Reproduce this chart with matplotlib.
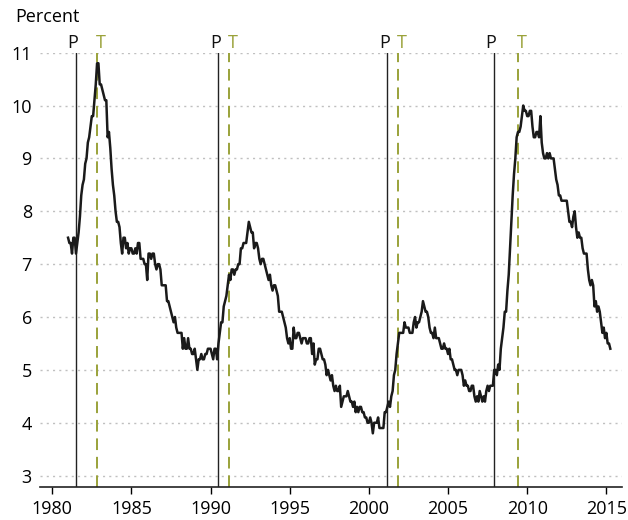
import matplotlib

matplotlib.use("Agg")
import matplotlib.pyplot as plt
import numpy as np

plt.rcParams["font.family"] = ["Open Sans", "DejaVu Sans"]

# monthly unemployment rate, Jan 1981 - Apr 2015
START_YEAR = 1981
RATE = [
    7.5, 7.4, 7.4, 7.2, 7.5, 7.5, 7.2, 7.4, 7.6, 7.9, 8.3, 8.5,
    8.6, 8.9, 9.0, 9.3, 9.4, 9.6, 9.8, 9.8, 10.1, 10.4, 10.8, 10.8,
    10.4, 10.4, 10.3, 10.2, 10.1, 10.1, 9.4, 9.5, 9.2, 8.8, 8.5, 8.3,
    8.0, 7.8, 7.8, 7.7, 7.4, 7.2, 7.5, 7.5, 7.3, 7.4, 7.2, 7.3,
    7.3, 7.2, 7.2, 7.3, 7.2, 7.4, 7.4, 7.1, 7.1, 7.1, 7.0, 7.0,
    6.7, 7.2, 7.2, 7.1, 7.2, 7.2, 7.0, 6.9, 7.0, 7.0, 6.9, 6.6,
    6.6, 6.6, 6.6, 6.3, 6.3, 6.2, 6.1, 6.0, 5.9, 6.0, 5.8, 5.7,
    5.7, 5.7, 5.7, 5.4, 5.6, 5.4, 5.4, 5.6, 5.4, 5.4, 5.3, 5.3,
    5.4, 5.2, 5.0, 5.2, 5.2, 5.3, 5.2, 5.2, 5.3, 5.3, 5.4, 5.4,
    5.4, 5.3, 5.2, 5.4, 5.4, 5.2, 5.5, 5.7, 5.9, 5.9, 6.2, 6.3,
    6.4, 6.6, 6.8, 6.7, 6.9, 6.9, 6.8, 6.9, 6.9, 7.0, 7.0, 7.3,
    7.3, 7.4, 7.4, 7.4, 7.6, 7.8, 7.7, 7.6, 7.6, 7.3, 7.4, 7.4,
    7.3, 7.1, 7.0, 7.1, 7.1, 7.0, 6.9, 6.8, 6.7, 6.8, 6.6, 6.5,
    6.6, 6.6, 6.5, 6.4, 6.1, 6.1, 6.1, 6.0, 5.9, 5.8, 5.6, 5.5,
    5.6, 5.4, 5.4, 5.8, 5.6, 5.6, 5.7, 5.7, 5.6, 5.5, 5.6, 5.6,
    5.6, 5.5, 5.5, 5.6, 5.6, 5.3, 5.5, 5.1, 5.2, 5.2, 5.4, 5.4,
    5.3, 5.2, 5.2, 5.1, 4.9, 5.0, 4.9, 4.8, 4.9, 4.7, 4.6, 4.7,
    4.6, 4.6, 4.7, 4.3, 4.4, 4.5, 4.5, 4.5, 4.6, 4.5, 4.4, 4.4,
    4.3, 4.4, 4.2, 4.3, 4.2, 4.3, 4.3, 4.2, 4.2, 4.1, 4.1, 4.0,
    4.0, 4.1, 4.0, 3.8, 4.0, 4.0, 4.0, 4.1, 3.9, 3.9, 3.9, 3.9,
    4.2, 4.2, 4.3, 4.4, 4.3, 4.5, 4.6, 4.9, 5.0, 5.3, 5.5, 5.7,
    5.7, 5.7, 5.7, 5.9, 5.8, 5.8, 5.8, 5.7, 5.7, 5.7, 5.9, 6.0,
    5.8, 5.9, 5.9, 6.0, 6.1, 6.3, 6.2, 6.1, 6.1, 6.0, 5.8, 5.7,
    5.7, 5.6, 5.8, 5.6, 5.6, 5.6, 5.5, 5.4, 5.4, 5.5, 5.4, 5.4,
    5.3, 5.4, 5.2, 5.2, 5.1, 5.0, 5.0, 4.9, 5.0, 5.0, 5.0, 4.9,
    4.7, 4.8, 4.7, 4.7, 4.6, 4.6, 4.7, 4.7, 4.5, 4.4, 4.5, 4.4,
    4.6, 4.5, 4.4, 4.5, 4.4, 4.6, 4.7, 4.6, 4.7, 4.7, 4.7, 5.0,
    5.0, 4.9, 5.1, 5.0, 5.4, 5.6, 5.8, 6.1, 6.1, 6.5, 6.8, 7.3,
    7.8, 8.3, 8.7, 9.0, 9.4, 9.5, 9.5, 9.6, 9.8, 10.0, 9.9, 9.9,
    9.8, 9.8, 9.9, 9.9, 9.6, 9.4, 9.4, 9.5, 9.5, 9.4, 9.8, 9.3,
    9.1, 9.0, 9.0, 9.1, 9.0, 9.1, 9.0, 9.0, 9.0, 8.8, 8.6, 8.5,
    8.3, 8.3, 8.2, 8.2, 8.2, 8.2, 8.2, 8.0, 7.8, 7.8, 7.7, 7.9,
    8.0, 7.7, 7.5, 7.6, 7.5, 7.5, 7.3, 7.2, 7.2, 7.2, 6.9, 6.7,
    6.6, 6.7, 6.6, 6.2, 6.3, 6.1, 6.2, 6.1, 5.9, 5.7, 5.8, 5.6,
    5.7, 5.5, 5.5, 5.4,
]

# business cycle peaks (P) and troughs (T), decimal years
PEAKS = [1981.5, 1990.5, 2001.17, 2007.92]
TROUGHS = [1982.83, 1991.17, 2001.83, 2009.42]

Y_TICKS = [3, 4, 5, 6, 7, 8, 9, 10, 11]
X_TICKS = [1980, 1985, 1990, 1995, 2000, 2005, 2010, 2015]

GREEN = "#9aa23a"
FS = 13

dates = START_YEAR + np.arange(len(RATE)) / 12

fig = plt.figure(figsize=(6.28, 5.2), dpi=100)
ax = fig.add_axes([0.064, 0.063, 0.926, 0.8357])

for y in Y_TICKS:
    ax.axhline(y, color="#c0c0c0", lw=1, ls=(0, (1.5, 3)), zorder=0)

ymin, ymax = 2.78, 11
for p in PEAKS:
    ax.plot([p, p], [ymin, ymax], color="#222222", lw=1.0, zorder=1)
    ax.annotate("P", (p, ymax), xytext=(-2.3, 7.2), textcoords="offset points",
                ha="center", va="center", fontsize=FS, color="#111111",
                annotation_clip=False)
for t in TROUGHS:
    ax.plot([t, t], [ymin, ymax], color=GREEN, lw=1.4, ls=(0, (6, 3.5)), zorder=1)
    ax.annotate("T", (t, ymax), xytext=(2.6, 7.2), textcoords="offset points",
                ha="center", va="center", fontsize=FS, color=GREEN,
                annotation_clip=False)

ax.plot(dates, RATE, color="#1a1a1a", lw=1.8, zorder=3)

ax.set_xlim(1979.24, 2015.97)
ax.set_ylim(ymin, ymax)
ax.set_yticks(Y_TICKS)
ax.set_xticks(X_TICKS)
ax.tick_params(axis="y", length=0, labelsize=FS, pad=6)
ax.tick_params(axis="x", length=5, width=1, labelsize=FS, direction="out", pad=4)

for side in ["top", "right", "left"]:
    ax.spines[side].set_visible(False)
ax.spines["bottom"].set_linewidth(1.2)
ax.spines["bottom"].set_color("#222222")

fig.text(0.024, 0.967, "Percent", fontsize=FS, va="center", ha="left")

fig.savefig("out.png", dpi=100)
plt.close(fig)
